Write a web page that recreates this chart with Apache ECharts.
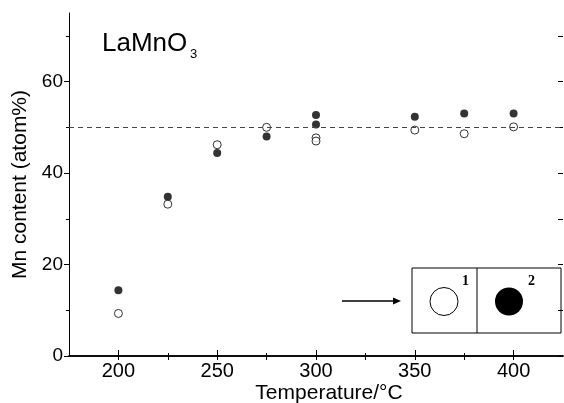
<!DOCTYPE html>
<html>
<head>
<meta charset="utf-8">
<script src="https://cdn.jsdelivr.net/npm/echarts@6/dist/echarts.min.js"></script>
<style>
  html, body { margin: 0; padding: 0; background: #fff; }
  #chart { width: 564px; height: 403px; }
</style>
</head>
<body>
<div id="chart"></div>
<script>
// measured points, Mn content (atom%) vs temperature
const openPts = [
  [200, 9.3], [225, 33.2], [250, 46.2], [275, 50.0],
  [300, 47.7], [300, 47.0], [350, 49.4], [375, 48.6], [400, 50.1]
]
const filledPts = [
  [200, 14.4], [225, 34.8], [250, 44.4], [275, 48.0],
  [300, 52.7], [300, 50.6], [350, 52.3], [375, 53.0], [400, 53.0]
]
const xMajor = [200, 250, 300, 350, 400]
const xMinor = [225, 275, 325, 375]
const yMajor = [0, 20, 40, 60]
const yMinor = [10, 30, 50, 70]
const refLevel = 50

const font = 'Liberation Sans, Arial, sans-serif'
let myChart = echarts.init(document.getElementById('chart'))

const xBase = { type: 'value', min: 175, max: 425, splitLine: { show: false } }
const yBase = { type: 'value', min: 0, max: 75, splitLine: { show: false } }

myChart.setOption({
  animation: false,
  grid: { left: 69, right: 1, top: 13, bottom: 47, outerBoundsMode: 'none', containLabel: false },
  xAxis: [
    Object.assign({}, xBase, {
      position: 'bottom',
      name: 'Temperature/°C',
      nameLocation: 'middle',
      nameGap: 27,
      nameMoveOverlap: false,
      nameTextStyle: { fontFamily: font, fontSize: 21, color: '#000', padding: [0, 0, 0, 26] },
      axisLine: { show: true, lineStyle: { color: '#000', width: 1.5 } },
      axisTick: { inside: true, length: 6, customValues: xMajor, lineStyle: { color: '#000' } },
      axisLabel: { customValues: xMajor, fontFamily: font, fontSize: 20, color: '#000', margin: 5 }
    }),
    Object.assign({}, xBase, {
      position: 'bottom',
      axisLine: { show: false },
      axisTick: { inside: true, length: 3, customValues: xMinor, lineStyle: { color: '#000' } },
      axisLabel: { show: false }
    }),
    Object.assign({}, xBase, {
      position: 'top',
      axisLine: { show: true, lineStyle: { color: '#000', width: 1.5 } },
      axisTick: { inside: true, length: 4, customValues: xMajor.concat(xMinor), lineStyle: { color: '#000' } },
      axisLabel: { show: false }
    })
  ],
  yAxis: [
    Object.assign({}, yBase, {
      position: 'left',
      name: 'Mn content (atom%)',
      nameLocation: 'middle',
      nameGap: 38,
      nameMoveOverlap: false,
      nameTextStyle: { fontFamily: font, fontSize: 21, color: '#000' },
      axisLine: { show: true, lineStyle: { color: '#000', width: 1 } },
      axisTick: { inside: false, length: 5, customValues: yMajor, lineStyle: { color: '#000' } },
      axisLabel: { customValues: yMajor, fontFamily: font, fontSize: 19, color: '#000', margin: 6 }
    }),
    Object.assign({}, yBase, {
      position: 'left',
      axisLine: { show: false },
      axisTick: { inside: false, length: 3, customValues: yMinor, lineStyle: { color: '#000' } },
      axisLabel: { show: false }
    }),
    Object.assign({}, yBase, {
      position: 'right',
      axisLine: { show: false },
      axisTick: { show: true, inside: true, length: 5, customValues: yMajor.concat(yMinor), lineStyle: { color: '#000' } },
      axisLabel: { show: false }
    })
  ],
  series: [
    {
      type: 'scatter',
      data: filledPts,
      symbol: 'circle',
      symbolSize: 8,
      itemStyle: { color: '#000' },
      markLine: {
        silent: true,
        symbol: 'none',
        label: { show: false },
        lineStyle: { color: '#444', type: [5, 4], width: 1 },
        data: [{ yAxis: refLevel }]
      }
    },
    {
      type: 'scatter',
      data: openPts,
      symbol: 'circle',
      symbolSize: 8,
      itemStyle: { color: '#fff', borderColor: '#000', borderWidth: 1 }
    }
  ],
  graphic: [
    // compound label
    { type: 'text', x: 102, y: 31, style: { text: 'LaMnO', font: '26px ' + font, fill: '#000' } },
    { type: 'text', x: 190, y: 48, style: { text: '3', font: '13px ' + font, fill: '#000' } },
    // inset: arrow and two-cell sketch
    { type: 'line', shape: { x1: 342, y1: 301, x2: 394, y2: 301 }, style: { stroke: '#000', lineWidth: 1.5 } },
    { type: 'polygon', shape: { points: [[393, 297.5], [401, 301], [393, 304.5]] }, style: { fill: '#000' } },
    { type: 'rect', shape: { x: 412, y: 268, width: 149, height: 65 }, style: { fill: '#fff', stroke: '#000', lineWidth: 1 } },
    { type: 'line', shape: { x1: 477, y1: 268, x2: 477, y2: 333 }, style: { stroke: '#000', lineWidth: 1 } },
    { type: 'circle', shape: { cx: 444, cy: 301.5, r: 14 }, style: { fill: '#fff', stroke: '#000', lineWidth: 1 } },
    { type: 'circle', shape: { cx: 509, cy: 301.5, r: 14 }, style: { fill: '#000' } },
    { type: 'text', x: 462, y: 274, style: { text: '1', font: 'bold 14px "Liberation Serif", serif', fill: '#000' } },
    { type: 'text', x: 528, y: 274, style: { text: '2', font: 'bold 14px "Liberation Serif", serif', fill: '#000' } }
  ]
})
</script>
</body>
</html>
